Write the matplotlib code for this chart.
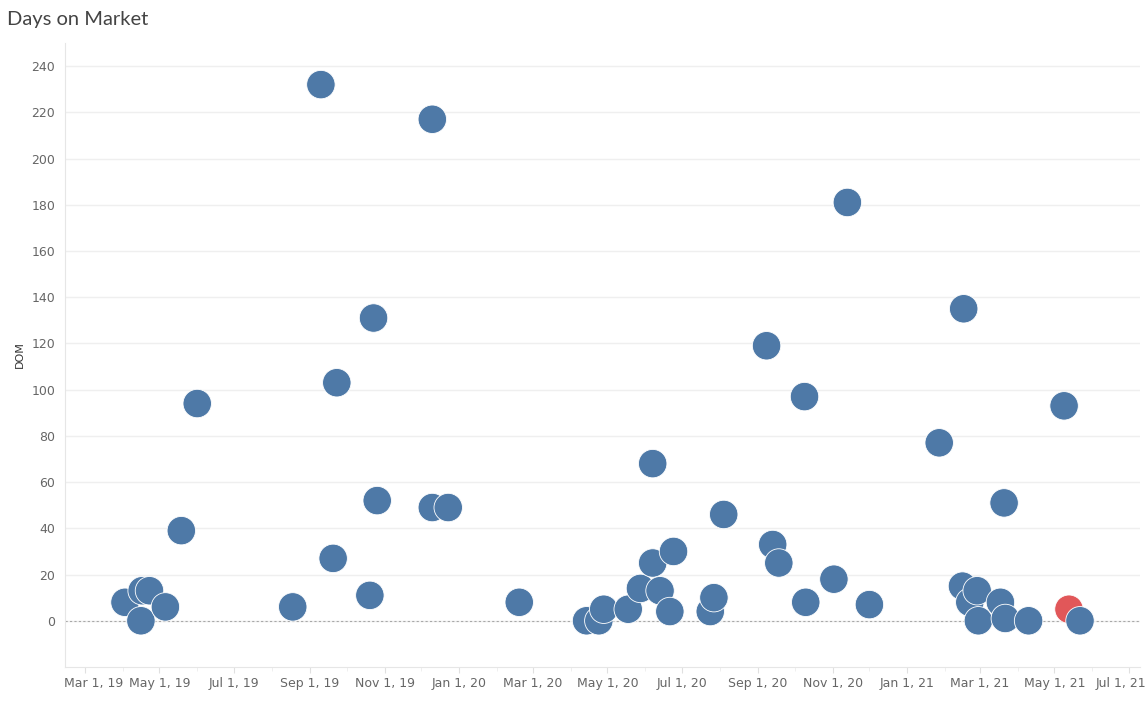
import matplotlib
matplotlib.use("Agg")
import matplotlib.pyplot as plt
import matplotlib.dates as mdates
import matplotlib.transforms as mtransforms
import pandas as pd

# listing dates and days on market
dates = [
    "2019-04-03", "2019-04-16", "2019-04-17", "2019-04-23", "2019-05-06",
    "2019-05-19", "2019-06-01", "2019-08-18", "2019-09-10", "2019-09-20",
    "2019-09-23", "2019-10-20", "2019-10-23", "2019-10-26", "2019-12-10",
    "2019-12-10", "2019-12-23", "2020-02-19", "2020-04-14", "2020-04-24",
    "2020-04-28", "2020-05-18", "2020-05-28", "2020-06-07", "2020-06-07",
    "2020-06-13", "2020-06-21", "2020-06-24", "2020-07-24", "2020-07-27",
    "2020-08-04", "2020-09-08", "2020-09-13", "2020-09-18", "2020-10-09",
    "2020-10-10", "2020-11-02", "2020-11-13", "2020-12-01", "2021-01-27",
    "2021-02-15", "2021-02-16", "2021-02-21", "2021-02-27", "2021-02-28",
    "2021-03-18", "2021-03-21", "2021-03-22", "2021-04-10", "2021-05-09",
    "2021-05-13", "2021-05-22",
]
dom = [
    8, 0, 13, 13, 6,
    39, 94, 6, 232, 27,
    103, 11, 131, 52, 217,
    49, 49, 8, 0, 0,
    5, 5, 14, 68, 25,
    13, 4, 30, 4, 10,
    46, 119, 33, 25, 97,
    8, 18, 181, 7, 77,
    15, 135, 8, 13, 0,
    8, 51, 1, 0, 93,
    5, 0,
]
highlight = "2021-05-13"  # the red one

yticks = list(range(0, 241, 20))
xtick_dates = ["2019-03-01", "2019-05-01", "2019-07-01", "2019-09-01",
               "2019-11-01", "2020-01-01", "2020-03-01", "2020-05-01",
               "2020-07-01", "2020-09-01", "2020-11-01", "2021-01-01",
               "2021-03-01", "2021-05-01", "2021-07-01"]

BLUE = "#4e79a7"
RED = "#e15759"

df = pd.DataFrame({"date": pd.to_datetime(dates), "dom": dom})
is_red = df["date"] == pd.Timestamp(highlight)

fig = plt.figure(figsize=(11.47, 7.02), dpi=100)
ax = fig.add_axes([65 / 1147, 35 / 702, 1075 / 1147, 624 / 702])

# draw in order so later points sit on top, like the source
colors = [RED if r else BLUE for r in is_red]
ax.scatter(df["date"], df["dom"], s=420, c=colors, edgecolors="white",
           linewidths=0.6, zorder=3)

ax.set_ylim(-20, 250)
ax.set_xlim(pd.Timestamp("2019-02-13"), pd.Timestamp("2021-07-10"))

ax.set_yticks(yticks)
ax.set_xticks(pd.to_datetime(xtick_dates))
ax.xaxis.set_minor_locator(mdates.MonthLocator())
ax.xaxis.set_major_formatter(
    plt.FuncFormatter(lambda v, p: (lambda d: f"{d:%b} {d.day}, {d:%y}")(mdates.num2date(v))))

ax.grid(axis="y", color="#efefef", linewidth=1)
ax.axhline(0, color="#a8a8a8", linestyle=(0, (2, 2)), linewidth=0.8, zorder=2)

for side in ["top", "right"]:
    ax.spines[side].set_visible(False)
for side in ["left", "bottom"]:
    ax.spines[side].set_color("#e6e6e6")

ax.tick_params(axis="y", length=0, pad=7, labelsize=9, labelcolor="#666666")
ax.tick_params(axis="x", which="major", length=4, color="#e0e0e0", pad=3,
               labelsize=9, labelcolor="#666666")
ax.tick_params(axis="x", which="minor", length=3, color="#ececec")

# tableau nudges the edge labels inside the plot area
labels = ax.get_xticklabels()
labels[0].set_transform(labels[0].get_transform()
                        + mtransforms.ScaledTranslation(9 / 100, 0, fig.dpi_scale_trans))
labels[-1].set_transform(labels[-1].get_transform()
                         + mtransforms.ScaledTranslation(-8 / 100, 0, fig.dpi_scale_trans))

ax.set_ylabel("DOM", fontsize=8, color="#333333", labelpad=5)

fig.text(7 / 1147, 1 - 20 / 702, "Days on Market", fontsize=14.5,
         color="#444444", va="center", ha="left", family="Lato")

fig.savefig("out.png", dpi=100)
